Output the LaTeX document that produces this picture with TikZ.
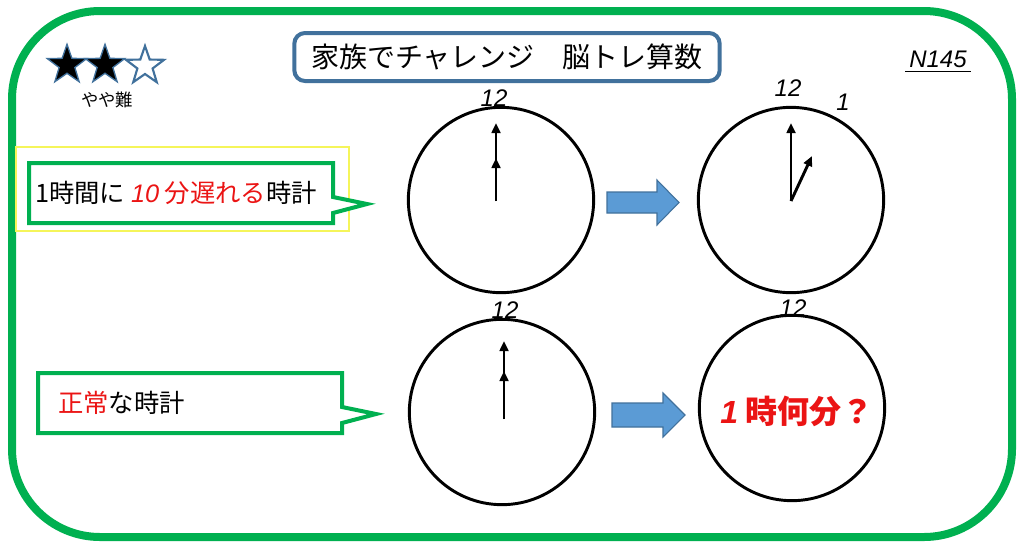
\documentclass[tikz,border=0pt]{standalone}
\usepackage{fontspec}
\setmainfont{Noto Sans CJK JP}
\newfontfamily\jpfont{Noto Sans CJK JP}
\newfontfamily\numfont{Liberation Sans}
\usetikzlibrary{shapes.geometric,arrows.meta}
\definecolor{frameg}{RGB}{0,176,80}
\definecolor{titleb}{RGB}{65,113,156}
\definecolor{arrowf}{RGB}{91,155,213}
\definecolor{arrowd}{RGB}{65,113,156}
\definecolor{redt}{RGB}{235,20,20}
\definecolor{yel}{RGB}{245,245,90}
\tikzset{
  clock/.style={circle,draw=black,line width=2.2pt,minimum size=139pt,inner sep=0pt},
  handline/.style={line width=2.2pt,-{Triangle[length=7.5pt,width=6.5pt]}},
  twelve/.style={font=\numfont\itshape\fontsize{18pt}{20pt}\selectfont,inner sep=0pt},
  callout/.style={draw=frameg,line width=3pt,fill=white},
  blockarrow/.style={fill=arrowf,draw=arrowd,line width=0.8pt},
  starfill/.style={star,star points=5,star point ratio=2.5,minimum size=31pt,inner sep=0pt,fill=black,draw=titleb,line width=1pt},
  starempty/.style={star,star points=5,star point ratio=2.5,minimum size=30pt,inner sep=0pt,fill=white,draw=titleb,line width=1.6pt}
}
\begin{document}
\begin{tikzpicture}[x=0.75pt,y=-0.75pt]
\useasboundingbox (0,0) rectangle (1024,544);
\fill[white] (0,0) rectangle (1024,544);
% outer frame
\draw[frameg,line width=6pt,rounded corners=66pt] (12,11) rectangle (1012,537);

% stars
\node[starfill] (s1) at (67,65) {};
\node[starfill] (s2) at (105,65) {};
\node[starempty] (s3) at (145,66) {};
\node[font=\jpfont\fontsize{13pt}{15pt}\selectfont] (lvl) at (107,100) {やや難};

% title
\node[draw=titleb,line width=3pt,rounded corners=8pt,minimum width=319pt,minimum height=36pt,inner sep=0pt,
      font=\jpfont\fontsize{21pt}{24pt}\selectfont] (title) at (507,57) {家族でチャレンジ　脳トレ算数};

% N145
\node[font=\numfont\itshape\fontsize{18pt}{20pt}\selectfont,inner sep=1pt] (num) at (938,59) {N145};
\draw[line width=1.2pt] ([xshift=-2pt,yshift=-2pt]num.south west) -- ([xshift=2pt,yshift=-2pt]num.south east);

% callout 1
\draw[yel,line width=0.8pt] (16,147) rectangle (349,231);
\draw[callout] (29,163) -- (333,163) -- (333,197) -- (367,204) -- (333,213) -- (333,223) -- (29,223) -- cycle;
\node[anchor=west,inner sep=0pt,font=\jpfont\fontsize{19pt}{21pt}\selectfont] (t1) at (35,193)
  {1時間に {\color{redt}{\numfont\itshape 10} 分遅れる}時計};

% callout 2
\draw[callout] (38,373) -- (342,373) -- (342,407) -- (376,414) -- (342,423) -- (342,433) -- (38,433) -- cycle;
\node[anchor=west,inner sep=0pt,font=\jpfont\fontsize{19pt}{21pt}\selectfont] (t2) at (58,403)
  {{\color{redt}正常}な時計};

% clock 1 (top left)
\node[clock] (c1) at (501,200) {};
\node[twelve] (c1l) at (494,98) {12};
\coordinate (c1o) at (496,201);
\coordinate (c1m) at (496,123);
\coordinate (c1h) at (496,158);
\draw[handline] (c1o) -- (c1m);
\draw[handline] (c1o) -- (c1h);

% clock 2 (top right)
\node[clock] (c2) at (791,200) {};
\node[twelve] (c2l) at (788,88) {12};
\node[twelve] (c2one) at (843,102) {1};
\coordinate (c2o) at (791,201);
\coordinate (c2m) at (791,123);
\coordinate (c2h) at (812,156);
\draw[handline] (c2o) -- (c2m);
\draw[handline] (c2o) -- (c2h);

% clock 3 (bottom left)
\node[clock] (c3) at (502,412) {};
\node[twelve] (c3l) at (505,310) {12};
\coordinate (c3o) at (504,419);
\coordinate (c3m) at (504,341);
\coordinate (c3h) at (504,371);
\draw[handline] (c3o) -- (c3m);
\draw[handline] (c3o) -- (c3h);

% clock 4 (bottom right)
\node[clock] (c4) at (792,408) {};
\node[twelve] (c4l) at (793,308) {12};
\node[text=redt,font=\jpfont\bfseries\fontsize{24pt}{26pt}\selectfont,inner sep=0pt] (q) at (797,411)
  {{\numfont\itshape 1} 時何分？};

% block arrows
\draw[blockarrow] (607,192) -- (657,192) -- (657,180) -- (679,202.5) -- (657,225) -- (657,213) -- (607,213) -- cycle;
\draw[blockarrow] (612,403) -- (663,403) -- (663,393) -- (685,415) -- (663,437) -- (663,427) -- (612,427) -- cycle;
\end{tikzpicture}
\end{document}
